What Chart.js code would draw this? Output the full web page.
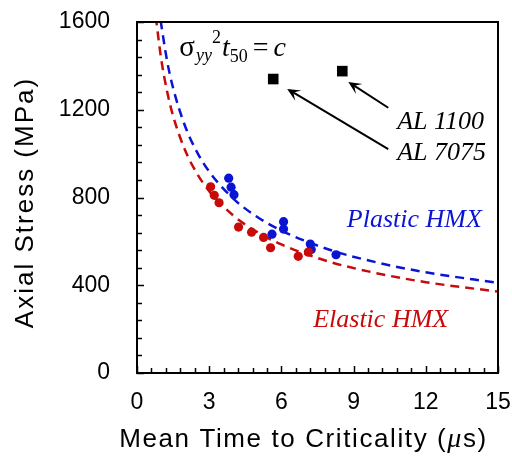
<!DOCTYPE html>
<html>
<head>
<meta charset="utf-8">
<script src="https://cdn.jsdelivr.net/npm/chart.js@4.4.1/dist/chart.umd.min.js"></script>
<style>
  html, body { margin: 0; padding: 0; background: #fff; }
  #wrap { width: 512px; height: 458px; }
</style>
</head>
<body>
<div id="wrap"><canvas id="stressChart"></canvas></div>
<script>
// measured points (time in us, stress in MPa)
const elasticTime = [3.06, 3.21, 3.41, 4.22, 4.76, 5.26, 5.55, 6.70, 7.12];
const elasticStress = [849, 810, 776, 665, 642, 618, 571, 532, 551];
const plasticTime = [3.81, 3.91, 4.03, 5.61, 6.09, 6.09, 7.20, 7.24, 8.27];
const plasticStress = [888, 847, 813, 633, 690, 656, 588, 563, 539];

// dashed fit curves
const elasticFitTime = [0.78, 1.0, 1.25, 1.5, 2, 2.5, 3, 4, 5, 6, 8, 10, 12, 15];
const elasticFitStress = [1625, 1435, 1284, 1172, 1015, 908, 829, 718, 642, 586, 507, 454, 414, 371];
const plasticFitTime = [0.98, 1.25, 1.5, 2, 2.5, 3, 4, 5, 6, 8, 10, 12, 15];
const plasticFitStress = [1607, 1423, 1299, 1125, 1006, 918, 795, 711, 649, 562, 503, 459, 411];

// aluminium reference points
const alNames = ["AL 7075", "AL 1100"];
const alTime = [5.66, 8.53];
const alStress = [1340, 1376];

const xTicks = [0, 3, 6, 9, 12, 15];
const yTicks = [0, 400, 800, 1200, 1600];

const BLUE = "#0a14d2";
const RED = "#c80a0a";

const toPoints = (xs, ys) => xs.map((x, i) => ({ x, y: ys[i] }));

// inward tick marks on left and bottom axes
const innerTicks = {
  id: "innerTicks",
  afterDatasetsDraw(chart) {
    const { ctx, chartArea: a, scales } = chart;
    ctx.save();
    ctx.strokeStyle = "#000";
    ctx.lineWidth = 1.5;
    for (let v = 0; v <= 1600; v += 80) {
      const y = Math.round(scales.y.getPixelForValue(v)) + 0.5;
      const len = v % 400 === 0 ? 7 : 5;
      ctx.beginPath();
      ctx.moveTo(a.left, y);
      ctx.lineTo(a.left + len, y);
      ctx.stroke();
    }
    for (let i = 0; i <= 25; i++) {
      const v = i * 0.6;
      const x = Math.round(scales.x.getPixelForValue(v)) + 0.5;
      const len = i % 5 === 0 ? 7 : 5;
      ctx.beginPath();
      ctx.moveTo(x, a.bottom);
      ctx.lineTo(x, a.bottom - len);
      ctx.stroke();
    }
    // frame
    ctx.lineWidth = 2;
    ctx.strokeRect(a.left, a.top, a.right - a.left, a.bottom - a.top);
    ctx.restore();
  },
};

const arrow = (ctx, x1, y1, x2, y2) => {
  const ang = Math.atan2(y2 - y1, x2 - x1);
  const L = 13, W = 6;
  const bx = x2 - L * Math.cos(ang), by = y2 - L * Math.sin(ang);
  ctx.beginPath();
  ctx.moveTo(x1, y1);
  ctx.lineTo(x2 - 6 * Math.cos(ang), y2 - 6 * Math.sin(ang));
  ctx.stroke();
  ctx.beginPath();
  ctx.moveTo(x2, y2);
  ctx.lineTo(bx - W * Math.sin(ang), by + W * Math.cos(ang));
  ctx.lineTo(x2 - 0.55 * L * Math.cos(ang), y2 - 0.55 * L * Math.sin(ang));
  ctx.lineTo(bx + W * Math.sin(ang), by - W * Math.cos(ang));
  ctx.closePath();
  ctx.fill();
};

// labels, equation, arrows and axis titles
const notes = {
  id: "notes",
  afterDraw(chart) {
    const { ctx, scales, chartArea } = chart;
    const px = (t) => scales.x.getPixelForValue(t);
    const py = (s) => scales.y.getPixelForValue(s);
    ctx.save();
    ctx.textBaseline = "alphabetic";
    ctx.textAlign = "left";

    ctx.fillStyle = "#000";
    ctx.strokeStyle = "#000";
    ctx.lineWidth = 2;
    arrow(ctx, px(10.44), py(1209), px(8.78), py(1327));
    arrow(ctx, px(10.44), py(1021), px(6.24), py(1295));

    ctx.font = "italic 26px 'Liberation Serif'";
    ctx.fillText(alNames[1], px(10.81), py(1111));
    ctx.fillText(alNames[0], px(10.81), py(971));

    ctx.fillStyle = BLUE;
    ctx.fillText("Plastic HMX", px(8.72), py(667));
    ctx.fillStyle = RED;
    ctx.fillText("Elastic HMX", px(7.32), py(210));

    // sigma_yy^2 t_50 = c
    ctx.fillStyle = "#000";
    let x = px(1.76);
    const base = py(1443);
    ctx.font = "29px 'Liberation Serif'";
    ctx.fillText("σ", x, base);
    x += ctx.measureText("σ").width + 1;
    ctx.font = "italic 18px 'Liberation Serif'";
    ctx.fillText("yy", x, base + 5);
    x += ctx.measureText("yy").width;
    ctx.font = "18px 'Liberation Serif'";
    ctx.fillText("2", x, base - 13);
    x += ctx.measureText("2").width + 1;
    ctx.font = "italic 28px 'Liberation Serif'";
    ctx.fillText("t", x, base);
    x += ctx.measureText("t").width;
    ctx.font = "18px 'Liberation Serif'";
    ctx.fillText("50", x, base + 6);
    x += ctx.measureText("50").width + 5;
    ctx.font = "28px 'Liberation Serif'";
    ctx.fillText("=", x, base);
    x += ctx.measureText("=").width + 5;
    ctx.font = "italic 28px 'Liberation Serif'";
    ctx.fillText("c", x, base);

    // y axis title
    ctx.save();
    ctx.translate(33, (chartArea.top + chartArea.bottom) / 2 + 5);
    ctx.rotate(-Math.PI / 2);
    ctx.textAlign = "center";
    ctx.letterSpacing = "2px";
    ctx.font = "26px 'Liberation Sans'";
    ctx.fillText("Axial Stress (MPa)", 0, 0);
    ctx.restore();

    // x axis title with italic mu
    const parts = [
      ["Mean Time to Criticality (", "26px 'Liberation Sans'"],
      ["μ", "italic 28px 'Liberation Serif'"],
      ["s)", "26px 'Liberation Sans'"],
    ];
    ctx.letterSpacing = "1.6px";
    let total = 0;
    for (const [t, f] of parts) { ctx.font = f; total += ctx.measureText(t).width; }
    x = (chartArea.left + chartArea.right) / 2 - 14 - total / 2;
    for (const [t, f] of parts) {
      ctx.font = f;
      ctx.fillText(t, x, 447);
      x += ctx.measureText(t).width;
    }
    ctx.restore();
  },
};

const ctx = document.getElementById("stressChart").getContext("2d");
const chart = new Chart(ctx, {
  type: "scatter",
  data: {
    datasets: [
      {
        label: "Elastic HMX",
        data: toPoints(elasticTime, elasticStress),
        backgroundColor: RED,
        borderColor: RED,
        pointRadius: 4.6,
        borderWidth: 0,
        order: 1,
      },
      {
        label: "Plastic HMX",
        data: toPoints(plasticTime, plasticStress),
        backgroundColor: BLUE,
        borderColor: BLUE,
        pointRadius: 4.6,
        borderWidth: 0,
        order: 2,
      },
      {
        label: "Aluminium",
        data: toPoints(alTime, alStress),
        backgroundColor: "#000",
        borderColor: "#000",
        pointStyle: "rect",
        pointRadius: 7.5,
        borderWidth: 0,
        order: 0,
      },
      {
        label: "Elastic fit",
        data: toPoints(elasticFitTime, elasticFitStress),
        showLine: true,
        borderColor: RED,
        borderWidth: 2.5,
        borderDash: [9, 6],
        pointRadius: 0,
        cubicInterpolationMode: "monotone",
        order: 3,
      },
      {
        label: "Plastic fit",
        data: toPoints(plasticFitTime, plasticFitStress),
        showLine: true,
        borderColor: BLUE,
        borderWidth: 2.5,
        borderDash: [9, 6],
        pointRadius: 0,
        cubicInterpolationMode: "monotone",
        order: 4,
      },
    ],
  },
  options: {
    responsive: true,
    maintainAspectRatio: false,
    animation: false,
    layout: { padding: { top: 22, right: 14, left: 0, bottom: 0 } },
    scales: {
      x: {
        min: 0,
        max: 15,
        afterFit: (s) => {
          s.height = 85;
          s.paddingLeft = 0;
          s.paddingRight = 0;
        },
        afterBuildTicks: (s) => { s.ticks = xTicks.map((v) => ({ value: v })); },
        border: { display: false },
        grid: { display: false, drawTicks: false },
        ticks: {
          color: "#000",
          padding: 16,
          maxRotation: 0,
          font: { family: "'Liberation Sans'", size: 23 },
        },
        title: { display: false },
      },
      y: {
        min: 0,
        max: 1600,
        afterFit: (s) => {
          s.width = 137;
          s.paddingTop = 0;
          s.paddingBottom = 0;
        },
        afterBuildTicks: (s) => { s.ticks = yTicks.map((v) => ({ value: v })); },
        border: { display: false },
        grid: { display: false, drawTicks: false },
        ticks: {
          color: "#000",
          padding: 27,
          callback: (v) => String(v),
          font: { family: "'Liberation Sans'", size: 23 },
        },
        title: { display: false },
      },
    },
    plugins: {
      legend: { display: false },
      tooltip: { enabled: false },
    },
  },
  plugins: [innerTicks, notes],
});
</script>
</body>
</html>
